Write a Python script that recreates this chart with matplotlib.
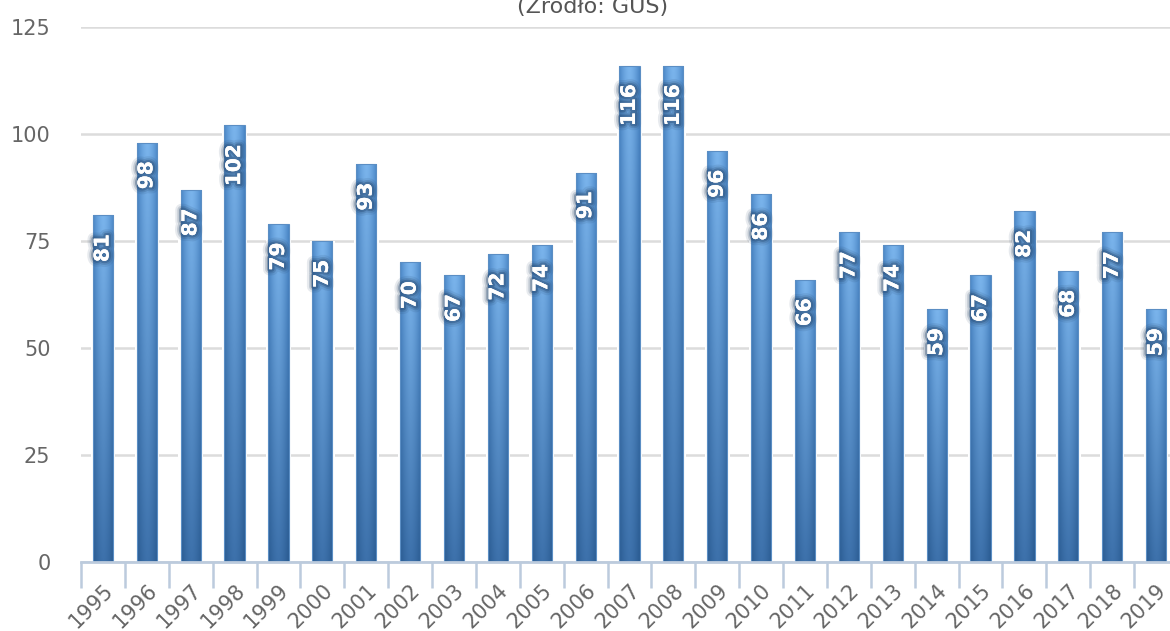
import numpy as np
import matplotlib
matplotlib.use('Agg')
from matplotlib import pyplot as plt
from matplotlib import patheffects as pe
from matplotlib.colors import to_rgb

# Data
years = [str(y) for y in range(1995, 2020)]
values = [81, 98, 87, 102, 79, 75, 93, 70, 67, 72, 74, 91, 116, 116,
          96, 86, 66, 77, 74, 59, 67, 82, 68, 77, 59]
title = '(Źródło: GUS)'
y_ticks = [0, 25, 50, 75, 100, 125]

# Colours
top_center = np.array(to_rgb('#7ab4ec'))
top_edge = np.array(to_rgb('#4a86c6'))
bot_center = np.array(to_rgb('#3d71ab'))
bot_edge = np.array(to_rgb('#2a5b91'))
grid_color = '#dcdcdc'
axis_color = '#bccbdd'
text_color = '#666666'


def bar_gradient(n_x=40, n_y=200):
    """Build an RGB image: light in the middle, dark at the sides and bottom"""
    h = np.linspace(0, 1, n_x)
    side = np.abs(2 * h - 1) ** 1.6          # 0 centre, 1 edge
    v = np.linspace(1, 0, n_y)[:, None]      # 1 top row, 0 bottom row
    top = top_center + (top_edge - top_center) * side[:, None]
    bot = bot_center + (bot_edge - bot_center) * side[:, None]
    img = bot[None, :, :] + (top - bot)[None, :, :] * v[:, :, None]
    return np.clip(img, 0, 1)


fig = plt.figure(figsize=(11.7, 6.31), dpi=100)
ax = fig.add_axes([81 / 1170, 69 / 631, 1097 / 1170, 535 / 631])

x = np.arange(len(years))
width = 0.46
grad = bar_gradient()

# soft dark glow behind the value labels
glow = [pe.withStroke(linewidth=9, foreground='#1d3a5c', alpha=0.10),
        pe.withStroke(linewidth=6, foreground='#1d3a5c', alpha=0.18),
        pe.withStroke(linewidth=3.5, foreground='#20426a', alpha=0.35),
        pe.Normal()]

for xi, val in zip(x, values):
    # white halo around bar (hides grid next to it)
    ax.add_patch(plt.Rectangle((xi - width / 2 - 0.05, 0), width + 0.1, val,
                               facecolor='white', edgecolor='none', zorder=2))
    rect = plt.Rectangle((xi - width / 2, 0), width, val,
                         facecolor='none', edgecolor='#5b8ec4', linewidth=0.8, zorder=4)
    ax.add_patch(rect)
    im = ax.imshow(grad, extent=(xi - width / 2, xi + width / 2, 0, val),
                   aspect='auto', interpolation='bilinear', zorder=3)
    im.set_clip_path(rect)
    ax.annotate(str(val), xy=(xi, val), xytext=(0, -13.5), textcoords='offset points',
                rotation=90, ha='center', va='top', color='white',
                fontsize=14.5, fontweight='bold', zorder=6, path_effects=glow)

ax.set_xlim(-0.5, len(years) - 0.5)
ax.set_ylim(0, 125)

# grid
ax.set_yticks(y_ticks)
ax.yaxis.grid(True, color=grid_color, linewidth=1.8)
ax.set_axisbelow(True)
ax.tick_params(axis='y', length=0, pad=22, labelsize=15, labelcolor=text_color)

# x axis
ax.set_xticks(x)
ax.set_xticklabels(years, rotation=45, ha='right', rotation_mode='anchor')
ax.set_xticks(np.arange(-0.5, len(years)), minor=True)
ax.tick_params(axis='x', which='major', length=0, pad=13, labelsize=15, labelcolor=text_color)
ax.tick_params(axis='x', which='minor', length=19, width=1.8, color=axis_color)

for side in ['top', 'right', 'left']:
    ax.spines[side].set_visible(False)
ax.spines['bottom'].set_color(axis_color)
ax.spines['bottom'].set_linewidth(2)
ax.spines['bottom'].set_zorder(5)

fig.text(593 / 1170, 1 - 13 / 631, title, ha='center', va='baseline',
         fontsize=16, color='#555555')

fig.savefig('out.png', dpi=100)
